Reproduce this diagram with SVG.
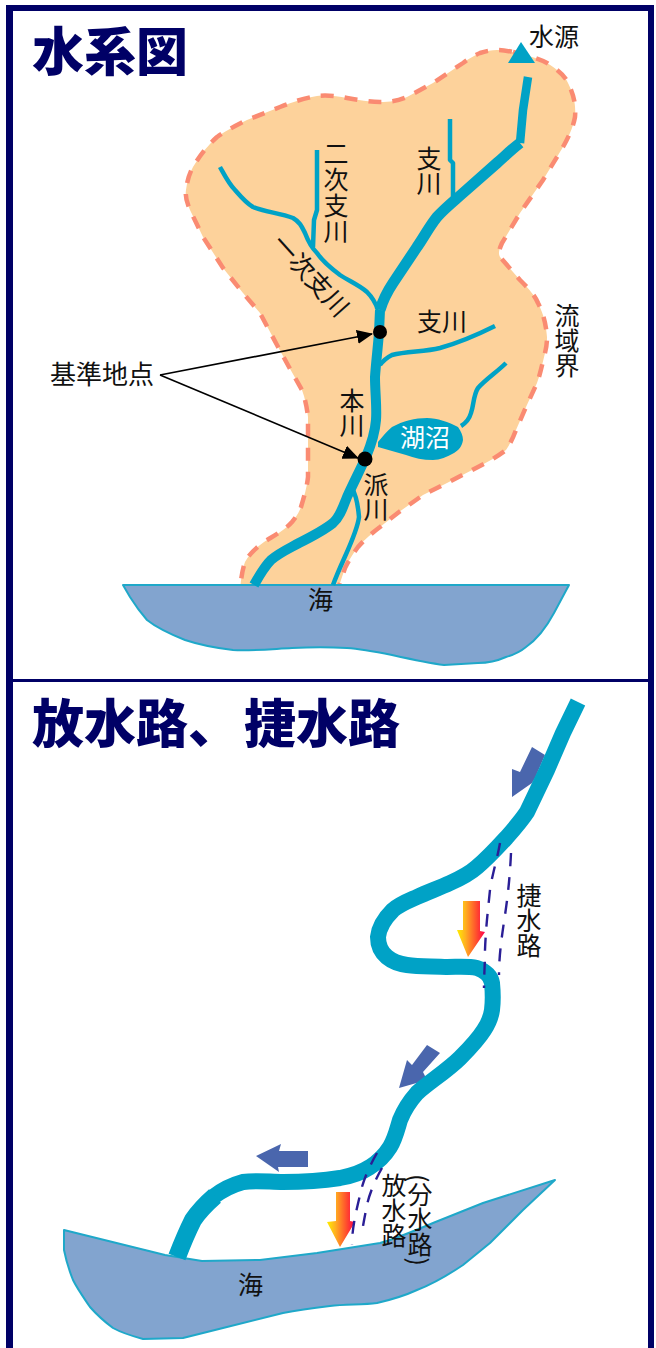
<svg xmlns="http://www.w3.org/2000/svg" width="656" height="1348" viewBox="0 0 656 1348">
<style>
text{font-family:"Noto Sans CJK JP","Noto Sans",sans-serif;fill:#111;font-size:25px}
.title{font-size:52px;font-weight:900;fill:#000066}
.v{writing-mode:vertical-rl}
.river{fill:none;stroke:#00a2c6;stroke-linecap:butt;stroke-linejoin:round}
.trib{stroke-width:4.5}
.sea{fill:#82a4cf;stroke:#1fa8c9;stroke-width:2;stroke-linejoin:round}
.flow{fill:#4a66ad}
.dash{fill:none;stroke:#2a1e96;stroke-width:2.4;stroke-dasharray:13 11}
.frame{fill:#000066}
.lead{fill:none;stroke:#000;stroke-width:1.6}
</style>
<defs>
<marker id="ah" markerUnits="userSpaceOnUse" markerWidth="16" markerHeight="14" refX="15" refY="7" orient="auto"><path d="M0 0L16 7L0 14z" fill="#000"/></marker>
<linearGradient id="g1" gradientUnits="userSpaceOnUse" x1="457" y1="0" x2="485" y2="0"><stop offset="0" stop-color="#ffee00"/><stop offset=".3" stop-color="#ffb020"/><stop offset=".75" stop-color="#ff4030"/><stop offset="1" stop-color="#ff0050"/></linearGradient>
<linearGradient id="g2" gradientUnits="userSpaceOnUse" x1="327" y1="0" x2="355" y2="0"><stop offset="0" stop-color="#ffee00"/><stop offset=".3" stop-color="#ffb020"/><stop offset=".75" stop-color="#ff4030"/><stop offset="1" stop-color="#ff0050"/></linearGradient>
</defs>
<rect width="656" height="1348" fill="#fff"/>
<g id="frame">
<rect class="frame" x="6" y="5" width="648" height="6"/>
<rect class="frame" x="6" y="5" width="7" height="1343"/>
<rect class="frame" x="648" y="5" width="6" height="1343"/>
<rect class="frame" x="6" y="679" width="644" height="3"/>
</g>
<text class="title" x="32" y="71">水系図</text>
<text class="title" x="32" y="743">放水路、<tspan x="244">捷水路</tspan></text>

<g id="basin">
<path d="M513 52C525 55 538 58 547 63C558 70 565 76 568 83C574 95 576 105 575 117C573 128 568 138 563 147L543 180L520 213L502 243C499 250 498 253 500 257L520 280C530 290 535 296 538 303C544 315 546 325 547 337C547 345 546 349 545 353C542 365 540 375 537 383L526 407L516 430C513 438 510 444 506 450C498 456 488 462 478 467L447 483L423 495L399 512L380 527C372 533 364 540 358 547C352 555 348 562 345 568L337 592L240 592C241 576 243 568 245 562C250 553 256 548 264 542C275 535 285 530 292 522C297 516 299 512 301 507C304 497 307 487 308 477L308 417C307 408 305 398 302 390L289 367L277 345L260 313L243 293L223 268L203 237L190 210C187 203 185 196 186 190C187 182 189 174 193 167C200 155 208 145 217 137C227 130 237 125 247 120L280 107C292 102 305 98 317 96C327 95 337 96 347 98C358 100 370 102 380 102C390 102 398 101 407 97L433 83L463 63C470 58 475 55 480 53C486 51 492 50 497 50C503 50 508 51 513 52Z" fill="#fdd29b" stroke="#fa8b72" stroke-width="4.5" stroke-dasharray="13 11"/>
</g>
<g id="sea-1">
<path class="sea" d="M123 585L569 585L554 613C546 628 536 640 526 647C520 652 513 655 506 657C497 661 488 663 478 663L444 665C428 663 410 659 392 655C377 652 362 649 347 648C330 647 311 647 292 648C272 649 252 651 233 650C216 648 200 645 185 640C170 634 157 628 147 620C140 612 135 605 130 597Z"/>
</g>
<g id="rivers-upper">
<path class="river trib" d="M450 119L450 160L453 163L453 200"/>
<path class="river trib" d="M317 150L317 210L314 220L313 247"/>
<path class="river trib" d="M220 167C225 176 229 184 235 190C241 197 246 203 253 207C265 212 280 213 293 218C300 222 302 227 305 233C308 241 311 247 317 253C323 262 332 269 340 275C349 281 359 285 367 292C373 298 376 304 378 310"/>
<path class="river trib" d="M495 326C477 335 458 343 440 348C424 352 407 351 392 355C386 358 383 361 380 365"/>
<path class="river trib" d="M506 363C497 372 486 379 478 388C473 396 474 405 471 413C469 420 466 423 461 426"/>
<path class="river trib" d="M352 488C356 495 358 505 359 517C357 535 342 560 333 585"/>
<path class="river" stroke-width="8.5" d="M528 77L523 110L520 143"/>
<path class="river" stroke-width="11" d="M520 143C511 150 505 156 497 163L463 193C454 201 445 208 437 217C429 227 424 237 417 247C409 259 401 271 393 283C387 292 383 300 380 310"/>
<path class="river" stroke-width="10" d="M380 310L379 332C378 347 376 362 375 377C375 392 377 407 376 420C375 433 371 445 366 457C360 470 353 484 347 497C343 507 340 517 333 523C323 531 311 537 299 543C288 549 279 553 271 560C264 567 259 576 254 585"/>
</g>
<g id="lake">
<path d="M378 442C383 436 387 431 392 427C403 421 415 418 427 418C437 418 449 422 458 427C461 431 463 436 463 440C462 446 459 450 454 453C447 457 440 460 433 460C423 460 414 458 406 455L378 447Z" fill="#00a2c6"/>
</g>
<g id="source">
<path d="M521 42L508 63L535 63Z" fill="#00a2c6"/>
</g>
<g id="connectors">
<path class="lead" d="M160 375L372 334" marker-end="url(#ah)"/>
<path class="lead" d="M160 375L358 458" marker-end="url(#ah)"/>
</g>
<g id="point-1"><circle cx="380" cy="332" r="7" fill="#000"/></g>
<g id="point-2"><circle cx="365" cy="459" r="7.5" fill="#000"/></g>
<g id="labels-1">
<text x="529" y="46">水源</text>
<text class="v" x="336" y="141" style="letter-spacing:1px">二次支川</text>
<text class="v" x="429" y="146">支川</text>
<text transform="translate(312 277) rotate(48)" x="-52" y="9">一次支川</text>
<text x="417" y="331">支川</text>
<text class="v" x="567" y="303">流域界</text>
<text x="50" y="384" style="font-size:26px">基準地点</text>
<text class="v" x="352" y="388">本川</text>
<text x="400" y="447" style="fill:#fff">湖沼</text>
<text class="v" x="376" y="472">派川</text>
<text x="308" y="609">海</text>
</g>

<g id="sea-2">
<path class="sea" d="M64 1230L165 1255L202 1261L260 1260L317 1253L380 1243C398 1238 416 1230 433 1223L483 1203L555 1180L523 1210L490 1243L463 1265C448 1275 433 1284 417 1290C404 1296 390 1300 377 1303C362 1305 346 1304 330 1306C314 1308 299 1310 283 1313C263 1318 243 1323 223 1328L183 1338L143 1339C132 1336 122 1333 113 1328C105 1322 97 1315 90 1307C84 1298 78 1290 73 1280C69 1270 66 1260 64 1250Z"/>
</g>
<g id="flow-arrows">
<path class="flow" d="M532 747L545 755L535 778L532 783L512 797L512 769L520 772Z"/>
<path class="flow" d="M427 1045L440 1053L423 1072L427 1080L399 1088L407 1060L412 1065Z"/>
<path class="flow" d="M256 1156L281 1144L279 1151L308 1151L308 1167L278 1167L279 1172Z"/>
<path d="M463 901L480 901L480 931L485 932L468 957L457 930L463 930Z" fill="url(#g1)"/>
<path d="M336 1192L350 1192L350 1221L355 1222L340 1247L327 1222L336 1221Z" fill="url(#g2)"/>
</g>
<g id="river-2">
<path class="river" stroke-width="16" d="M578 702L563 733L547 770L527 812C521 821 514 829 507 837C497 848 488 858 477 867C468 875 459 879 450 883C439 888 428 892 417 897C408 901 400 904 393 910C385 918 379 927 378 937C378 945 381 952 387 957C393 962 400 964 407 965C420 967 434 966 447 967C458 967 468 966 477 968C486 971 491 977 492 983C493 993 493 1002 492 1010C491 1017 488 1024 484 1030C479 1038 470 1048 460 1058C448 1070 428 1083 417 1093C409 1102 404 1110 400 1120C397 1130 395 1139 390 1147C385 1155 378 1162 370 1167C361 1173 351 1176 340 1178C321 1181 302 1182 283 1182C270 1182 256 1180 243 1182C232 1185 222 1190 213 1197"/>
<path class="river" stroke-width="18" d="M215 1196C207 1203 199 1211 193 1220C187 1232 182 1244 177 1257"/>
</g>
<g id="shortcuts">
<path class="dash" d="M500 843C497 860 492 875 490 890C488 910 486 925 485 950C485 965 484 975 484 988"/>
<path class="dash" d="M511 853C510 875 508 895 505 915C502 935 499 955 499 975"/>
<path class="dash" d="M377 1153C370 1165 363 1180 360 1195C356 1212 352 1228 352 1245"/>
<path class="dash" d="M382 1168C375 1180 369 1195 367 1205C365 1215 363 1225 362 1233"/>
</g>
<g id="labels-2">
<text class="v" x="529" y="883">捷水路</text>
<text class="v" x="394" y="1173">放水路</text>
<text class="v" x="420" y="1174">(分水路)</text>
<text x="238" y="1294">海</text>
</g>
</svg>
